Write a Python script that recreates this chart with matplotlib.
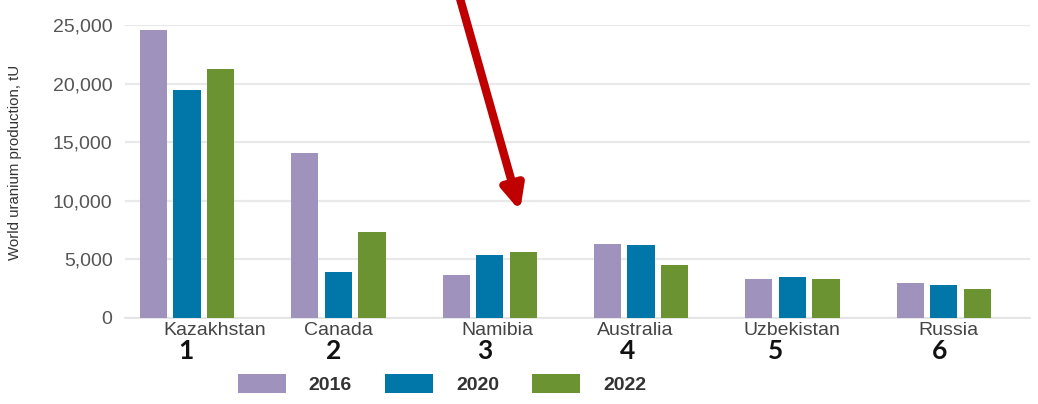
import numpy as np
import matplotlib
matplotlib.use("Agg")
import matplotlib.pyplot as plt

countries = ["Kazakhstan", "Canada", "Namibia", "Australia", "Uzbekistan", "Russia"]
ranks = ["1", "2", "3", "4", "5", "6"]
years = ["2016", "2020", "2022"]
prod_2016 = [24586, 14039, 3654, 6315, 3325, 3004]
prod_2020 = [19477, 3885, 5413, 6203, 3500, 2846]
prod_2022 = [21227, 7351, 5613, 4553, 3300, 2508]
colors = ["#9f92bd", "#0077a8", "#6b9331"]

# small nudges so the labels sit where the original has them
name_shift = [0.18, 0.0, 0.05, -0.04, 0.0, 0.03]
rank_shift = [-0.01, -0.03, -0.03, -0.09, -0.11, -0.03]

plt.rcParams["font.family"] = ["Liberation Sans", "DejaVu Sans"]

fig = plt.figure(figsize=(10.38, 4.04), dpi=100)
ax = fig.add_axes([125 / 1038, 86 / 404, 905 / 1038, 293 / 404])

x = np.arange(len(countries))
w = 0.18
offs = [-0.222, 0.0, 0.222]
bars = []
for vals, off, col, yr in zip([prod_2016, prod_2020, prod_2022], offs, colors, years):
    b = ax.bar(x + off, vals, width=w, color=col, label=yr, zorder=3)
    bars.append(b)

ax.set_xlim(-0.41, 5.57)
ax.set_ylim(0, 25000)
ax.set_yticks(np.arange(0, 25001, 5000))
ax.set_yticklabels(["0", "5,000", "10,000", "15,000", "20,000", "25,000"])
ax.tick_params(axis="y", length=0, pad=9, labelsize=14, labelcolor="#555555")
ax.set_xticks([])
ax.grid(axis="y", color="#e9e9e9", linewidth=1.6, zorder=0)
for s in ["top", "right", "left"]:
    ax.spines[s].set_visible(False)
ax.spines["bottom"].set_color("#e2e2e2")
ax.spines["bottom"].set_linewidth(1.2)

ax.set_ylabel("World uranium production, tU", fontsize=10.8, color="#333333")
ax.yaxis.set_label_coords(-0.114, 0.532)

for i in range(len(countries)):
    ax.text(i + name_shift[i], -0.015, countries[i], transform=ax.get_xaxis_transform(),
            ha="center", va="top", fontsize=14, color="#444444")
    ax.text(i + rank_shift[i], -0.07, ranks[i], transform=ax.get_xaxis_transform(),
            ha="center", va="top", fontsize=19, color="#111111",
            family=["Lato", "DejaVu Sans"], weight="bold")

fig.legend(handles=bars, labels=years, loc="center", bbox_to_anchor=(442 / 1038, 1 - 384 / 404),
           ncol=3, frameon=False, handlelength=2.47, handleheight=1.13, handletextpad=1.19,
           columnspacing=1.7, prop={"size": 14, "weight": "bold"}, labelcolor="#333333")

# red pointer arrow
ax_over = fig.add_axes([0, 0, 1, 1], facecolor="none")
ax_over.set_xlim(0, 1038)
ax_over.set_ylim(404, 0)
ax_over.axis("off")
ax_over.annotate("", xy=(520, 211), xytext=(459, -5),
                 arrowprops=dict(arrowstyle="-|>,head_length=1.4,head_width=0.65",
                                 color="#c00000", lw=6, shrinkA=0, shrinkB=0))

fig.savefig("out.png", dpi=100)
